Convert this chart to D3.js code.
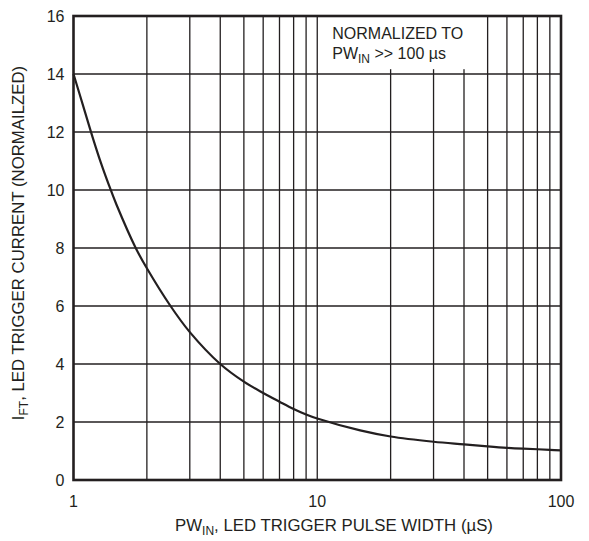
<!DOCTYPE html>
<html>
<head>
<meta charset="utf-8">
<script src="https://cdnjs.cloudflare.com/ajax/libs/d3/7.8.5/d3.min.js"></script>
<style>
  body { margin: 0; background: #fff; }
  text { font-family: "Liberation Sans", Arial, sans-serif; fill: #231f20; }
</style>
</head>
<body>
<div id="main"></div>
<script>
// pulse width (us) vs normalized trigger current
var pulseWidth = [1, 1.1, 1.2, 1.3, 1.4, 1.5, 1.8, 2, 2.5, 3, 4, 5, 6, 7, 8, 9, 10, 15, 20, 30, 40, 50, 60, 70, 80, 90, 100];
var iftNorm    = [14, 12.85, 11.8, 10.9, 10.15, 9.5, 8.0, 7.3, 6.0, 5.1, 4.0, 3.39, 3.0, 2.7, 2.45, 2.26, 2.12, 1.71, 1.5, 1.32, 1.23, 1.16, 1.11, 1.08, 1.06, 1.04, 1.02];

var xTicks = [1, 10, 100];
var yTicks = [0, 2, 4, 6, 8, 10, 12, 14, 16];
var xGrid = [2, 3, 4, 5, 6, 7, 8, 9, 10, 20, 30, 40, 50, 60, 70, 80, 90];

var width = 589, height = 541;
var margin = {top: 16, right: 28, bottom: 61, left: 73.5};

var svg = d3.select("#main")
  .append("svg")
  .attr("width", width)
  .attr("height", height);

var x = d3.scaleLog()
  .domain([1, 100])
  .range([margin.left, width - margin.right]);

var y = d3.scaleLinear()
  .domain([0, 16])
  .range([height - margin.bottom, margin.top]);

// grid
svg.append("g").selectAll("line")
  .data(xGrid)
  .enter().append("line")
    .attr("x1", function(d){ return x(d); })
    .attr("x2", function(d){ return x(d); })
    .attr("y1", y(0))
    .attr("y2", y(16))
    .attr("stroke", "#231f20")
    .attr("stroke-width", 1.3);

svg.append("g").selectAll("line")
  .data(yTicks.slice(1, -1))
  .enter().append("line")
    .attr("x1", x(1))
    .attr("x2", x(100))
    .attr("y1", function(d){ return y(d); })
    .attr("y2", function(d){ return y(d); })
    .attr("stroke", "#231f20")
    .attr("stroke-width", 1.3);

// note box covers the grid
var note = svg.append("g");
note.append("rect")
  .attr("x", x(10) + 1)
  .attr("y", y(16) + 1)
  .attr("width", x(48.5) - x(10))
  .attr("height", y(14.2) - y(16))
  .attr("fill", "#fff");
note.append("text")
  .attr("x", x(10) + 15)
  .attr("y", y(16) + 23)
  .style("font-size", "16px")
  .text("NORMALIZED TO");
var t2 = note.append("text")
  .attr("x", x(10) + 15)
  .attr("y", y(16) + 43)
  .style("font-size", "16px");
t2.append("tspan").text("PW");
t2.append("tspan").attr("dy", 4).style("font-size", "12px").text("IN");
t2.append("tspan").attr("dy", -4).text(" >> 100 \u00b5s");

// frame
svg.append("rect")
  .attr("x", x(1))
  .attr("y", y(16))
  .attr("width", x(100) - x(1))
  .attr("height", y(0) - y(16))
  .attr("fill", "none")
  .attr("stroke", "#231f20")
  .attr("stroke-width", 2.6);

// curve
var line = d3.line()
  .x(function(d){ return x(d[0]); })
  .y(function(d){ return y(d[1]); })
  .curve(d3.curveCatmullRom.alpha(0.5));

svg.append("path")
  .datum(d3.zip(pulseWidth, iftNorm))
  .attr("d", line)
  .attr("fill", "none")
  .attr("stroke", "#231f20")
  .attr("stroke-width", 2.2);

// tick labels
svg.append("g").selectAll("text")
  .data(yTicks)
  .enter().append("text")
    .attr("x", x(1) - 9)
    .attr("y", function(d){ return y(d); })
    .attr("dy", "0.36em")
    .attr("text-anchor", "end")
    .style("font-size", "16px")
    .text(function(d){ return d; });

svg.append("g").selectAll("text")
  .data(xTicks)
  .enter().append("text")
    .attr("x", function(d){ return x(d); })
    .attr("y", y(0) + 27)
    .attr("text-anchor", "middle")
    .style("font-size", "16px")
    .text(function(d){ return d; });

// axis titles
var xt = svg.append("text")
  .attr("x", 334)
  .attr("y", 531)
  .attr("text-anchor", "middle")
  .style("font-size", "16.8px");
xt.append("tspan").text("PW");
xt.append("tspan").attr("dy", 4).style("font-size", "12px").text("IN");
xt.append("tspan").attr("dy", -4).text(", LED TRIGGER PULSE WIDTH (\u00b5S)");

var yt = svg.append("text")
  .attr("transform", "translate(24," + 243 + ") rotate(-90)")
  .attr("text-anchor", "middle")
  .style("font-size", "16.8px");
yt.append("tspan").text("I");
yt.append("tspan").attr("dy", 4).style("font-size", "12px").text("FT");
yt.append("tspan").attr("dy", -4).text(", LED TRIGGER CURRENT (NORMAILZED)");
</script>
</body>
</html>
